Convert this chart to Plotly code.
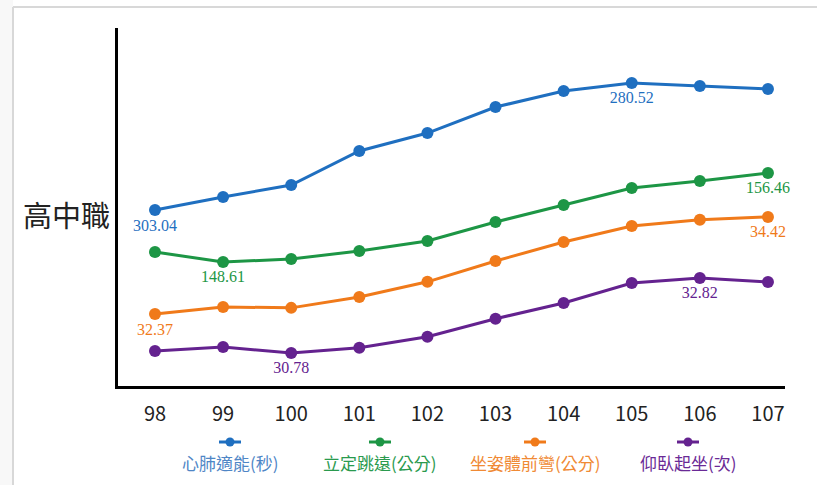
import plotly.graph_objects as go

years = [98, 99, 100, 101, 102, 103, 104, 105, 106, 107]
series_names = ["心肺適能(秒)", "立定跳遠(公分)", "坐姿體前彎(公分)", "仰臥起坐(次)"]
cardio = [303.04, 300.73, 298.61, 292.58, 289.39, 284.78, 281.94, 280.52, 281.05, 281.58]
jump = [149.49, 148.61, 148.87, 149.58, 150.46, 152.14, 153.64, 155.14, 155.75, 156.46]
reach = [32.37, 32.52, 32.50, 32.73, 33.05, 33.49, 33.89, 34.23, 34.36, 34.42]
situp = [30.83, 30.94, 30.78, 30.92, 31.22, 31.71, 32.14, 32.68, 32.82, 32.71]
cardio_labels = ["303.04", "", "", "", "", "", "", "280.52", "", ""]
jump_labels = ["", "148.61", "", "", "", "", "", "", "", "156.46"]
reach_labels = ["32.37", "", "", "", "", "", "", "", "", "34.42"]
situp_labels = ["", "", "30.78", "", "", "", "", "", "32.82", ""]
row_label = "高中職"

colors = ["#1f6fc0", "#1d9645", "#f07a1a", "#64228f"]
legend_text_colors = ["#4f86c6", "#2a9a4e", "#f08a35", "#6a2a96"]

W, H = 817, 485
L, R, T, B = 118, 785, 28, 386

fig = go.Figure()
data = [(cardio, cardio_labels, "y2"), (jump, jump_labels, "y"),
        (reach, reach_labels, "y3"), (situp, situp_labels, "y4")]
for i, (vals, labels, ax) in enumerate(data):
    fig.add_trace(go.Scatter(
        x=years, y=vals, yaxis=ax, mode="lines+markers+text",
        name=series_names[i], text=labels, textposition="bottom center",
        textfont=dict(family="Liberation Serif, serif", size=16, color=colors[i]),
        line=dict(color=colors[i], width=3),
        marker=dict(color=colors[i], size=12),
        cliponaxis=False, showlegend=False,
    ))

hidden = dict(visible=False, showgrid=False, zeroline=False)
fig.update_layout(
    width=W, height=H,
    margin=dict(l=L, r=W - R, t=T, b=H - B),
    paper_bgcolor="white", plot_bgcolor="white",
    xaxis=dict(range=[97.457, 107.25], tickmode="array", tickvals=years,
               ticktext=[str(y) for y in years], showline=True, linecolor="black",
               linewidth=3, showgrid=False, zeroline=False, ticks="",
               tickfont=dict(family="Noto Sans CJK TC, sans-serif", size=20, color="#222"),
               ticklabelstandoff=8),
    yaxis=dict(range=[137.67, 169.25], showline=True, linecolor="black", linewidth=3,
               showgrid=False, zeroline=False, showticklabels=False, ticks=""),
    yaxis2=dict(range=[334.24, 270.77], overlaying="y", **hidden),
    yaxis3=dict(range=[30.85, 38.41], overlaying="y", **hidden),
    yaxis4=dict(range=[29.88, 39.62], overlaying="y", **hidden),
    showlegend=False,
)

def px(x):
    return (x - L) / (R - L)

def py(y):
    return (B - y) / (B - T)

# outer frame
fig.add_shape(type="rect", xref="paper", yref="paper", layer="below",
              x0=px(0), x1=px(13), y0=py(H), y1=py(0), line=dict(width=0), fillcolor="#f8f8f8")
fig.add_shape(type="line", xref="paper", yref="paper", x0=px(13), x1=px(13), y0=py(H), y1=py(7),
              line=dict(color="#d8d8d8", width=2))
fig.add_shape(type="line", xref="paper", yref="paper", x0=px(13), x1=px(W), y0=py(7), y1=py(7),
              line=dict(color="#d8d8d8", width=2))

fig.add_annotation(xref="paper", yref="paper", x=px(66), y=py(214), text=row_label,
                   showarrow=False, font=dict(family="Noto Sans CJK TC, sans-serif", size=29, color="#222"),
                   xanchor="center", yanchor="middle")

legend_x = [230, 380, 535, 688]
for i, name in enumerate(series_names):
    cx = legend_x[i]
    fig.add_shape(type="line", xref="paper", yref="paper", x0=px(cx - 11), x1=px(cx + 11),
                  y0=py(442), y1=py(442), line=dict(color=colors[i], width=3))
    fig.add_shape(type="circle", xref="paper", yref="paper", x0=px(cx - 4.5), x1=px(cx + 4.5),
                  y0=py(446.5), y1=py(437.5), line=dict(color=colors[i], width=0), fillcolor=colors[i])
    fig.add_annotation(xref="paper", yref="paper", x=px(cx), y=py(462), text=name,
                       showarrow=False, xanchor="center", yanchor="middle",
                       font=dict(family="Noto Sans CJK TC, sans-serif", size=17, color=legend_text_colors[i]))

fig.write_html("out.html")
